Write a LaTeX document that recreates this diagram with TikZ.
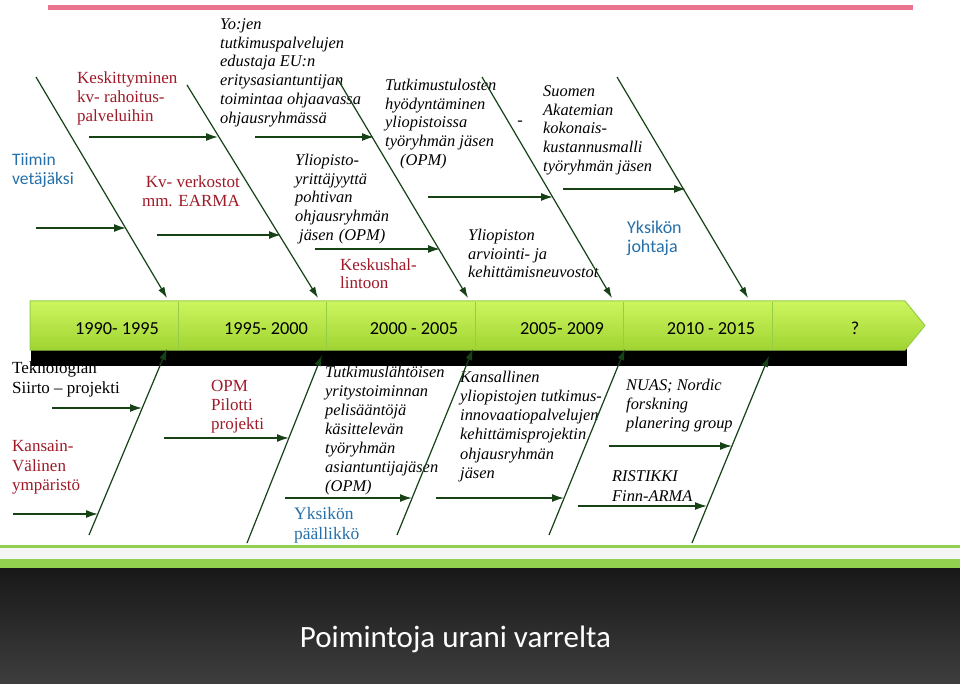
\documentclass[tikz,border=0pt]{standalone}
\usepackage{fontspec}
\setmainfont{Liberation Serif}
\newfontfamily\carl{Carlito}
\usetikzlibrary{arrows.meta}
\definecolor{dgreen}{RGB}{22,66,22}
\definecolor{dred}{RGB}{158,26,40}
\definecolor{tblue}{RGB}{37,112,170}
\definecolor{pinkline}{RGB}{234,115,142}
\definecolor{bartop}{RGB}{205,245,95}
\definecolor{barbot}{RGB}{160,212,50}
\definecolor{barline}{RGB}{150,205,70}
\definecolor{lgreen}{RGB}{146,208,80}
\newcommand\myfl{\rule{0pt}{0.8em}}
\begin{document}
\begin{tikzpicture}[x=1pt,y=-1pt,
  it/.style={anchor=north west,inner sep=0pt,align=left,font=\fontsize{16.4}{18.8}\selectfont\itshape},
  rd/.style={anchor=north west,inner sep=0pt,align=left,text=dred,font=\fontsize{17}{19.2}\selectfont},
  bk/.style={anchor=north west,inner sep=0pt,align=left,font=\fontsize{17}{20}\selectfont},
  bl/.style={anchor=north west,inner sep=0pt,align=left,text=tblue,font=\fontsize{17.5}{20}\selectfont},
  bls/.style={anchor=north west,inner sep=0pt,align=left,text=tblue,font=\carl\fontsize{17.5}{19}\selectfont},
  yr/.style={anchor=base,inner sep=0pt,font=\carl\fontsize{18.3}{20}\selectfont},
  bone/.style={draw=dgreen,line width=1.2pt,-{Latex[length=11pt,width=7pt]}},
  twig/.style={draw=dgreen,line width=1.6pt,-{Latex[length=12pt,width=8pt]}}]
\useasboundingbox (0,0) rectangle (960,684);
\fill[white] (0,0) rectangle (960,684);
% top pink rule
\fill[pinkline] (48,5) rectangle (913,10);

% ---------- upper texts ----------
\node[it] (yojen) at (220,15.9) {\myfl Yo:jen\\tutkimuspalvelujen\\edustaja EU:n\\eritysasiantuntijan\\toimintaa ohjaavassa\\ohjausryhmässä};
\node[rd] (keskit) at (77,69.4) {\myfl Keskittyminen\\kv- rahoitus-\\palveluihin};
\node[bls] (tiimin) at (12,151) {\myfl Tiimin\\vetäjäksi};
\node[rd,anchor=north east,align=right] (kvverk) at (240,173.4) {\myfl Kv- verkostot\\mm. EARMA};
\node[it] (ylyrit) at (295,152) {\myfl Yliopisto-\\yrittäjyyttä\\pohtivan\\ohjausryhmän\\\hspace*{4pt}jäsen\hspace{5pt}(OPM)};
\node[rd,font=\fontsize{17}{18.5}\selectfont] (keskus) at (340,256.4) {\myfl Keskushal-\\lintoon};
\node[it] (tutktul) at (385,76.9) {\myfl Tutkimustulosten\\hyödyntäminen\\yliopistoissa\\työryhmän jäsen\\\hspace*{15pt}(OPM)};
\node[it,anchor=center] (dash) at (520,123) {-};
\node[it] (suomen) at (543,83) {\myfl Suomen\\Akatemian\\kokonais-\\kustannusmalli\\työryhmän jäsen};
\node[it] (ylarv) at (468,227) {\myfl Yliopiston\\arviointi- ja\\kehittämisneuvostot};
\node[bls,font=\carl\fontsize{18}{19}\selectfont] (yjoht) at (627,218.6) {\myfl Yksikön\\johtaja};

% ---------- upper bones ----------
\coordinate (A1) at (36,77);  \coordinate (A2) at (167,298);
\coordinate (B1) at (187,85); \coordinate (B2) at (318,298);
\coordinate (C1) at (337,78); \coordinate (C2) at (468,298);
\coordinate (D1) at (482,77); \coordinate (D2) at (612,298);
\coordinate (E1) at (617,77); \coordinate (E2) at (748,298);
\foreach \p in {A,B,C,D,E} \draw[bone] (\p1) -- (\p2);

\coordinate (ha1) at (36,228);  \coordinate (ha2) at (126,228);
\coordinate (hb1) at (89,137);  \coordinate (hb2) at (218,137);
\coordinate (hb3) at (157,235); \coordinate (hb4) at (281,235);
\coordinate (hc1) at (255,137); \coordinate (hc2) at (374,137);
\coordinate (hc3) at (315,249); \coordinate (hc4) at (440,249);
\coordinate (hd1) at (428,197); \coordinate (hd2) at (553,197);
\coordinate (he1) at (563,189); \coordinate (he2) at (686,189);
\draw[twig] (ha1) -- (ha2);
\draw[twig] (hb1) -- (hb2);
\draw[twig] (hb3) -- (hb4);
\draw[twig] (hc1) -- (hc2);
\draw[twig] (hc3) -- (hc4);
\draw[twig] (hd1) -- (hd2);
\draw[twig] (he1) -- (he2);

% ---------- lower texts ----------
\node[bk] (tekno) at (12,359.4) {\myfl Teknologian\\Siirto -- projekti};
\node[rd,font=\fontsize{17}{19.8}\selectfont] (kansain) at (12,437.4) {\myfl Kansain-\\Välinen\\ympäristö};
\node[rd,font=\fontsize{17}{19.3}\selectfont] (opm) at (211,377.4) {\myfl OPM\\Pilotti\\projekti};
\node[it,font=\fontsize{16.4}{19}\selectfont\itshape] (tutkl) at (325,364) {\myfl Tutkimuslähtöisen\\yritystoiminnan\\pelisääntöjä\\käsittelevän\\työryhmän\\asiantuntijajäsen\\(OPM)};
\node[bl] (ypaal) at (294,505.4) {\myfl Yksikön\\päällikkö};
\node[it,font=\fontsize{16.4}{19.2}\selectfont\itshape] (kansal) at (460,369) {\myfl Kansallinen\\yliopistojen tutkimus-\\innovaatiopalvelujen\\kehittämisprojektin\\ohjausryhmän\\jäsen};
\node[it,font=\fontsize{16.4}{19}\selectfont\itshape] (nuas) at (626,377) {\myfl NUAS; Nordic\\forskning\\planering group};
\node[it,font=\fontsize{16.4}{20}\selectfont\itshape] (ristikki) at (612,468) {\myfl RISTIKKI\\Finn-ARMA};

% ---------- timeline bar ----------
\fill[black] (31,340) rectangle (907,366);
\shade[top color=bartop,bottom color=barbot,draw=barline,line width=1pt]
  (30,301) -- (905,301) -- (925,325.5) -- (905,350) -- (30,350) -- cycle;
\foreach \x in {178,326,475,623,772} \draw[barline,line width=1pt] (\x,302) -- (\x,349.5);
\node[yr] (y1) at (117,334) {1990- 1995};
\node[yr] (y2) at (266,334) {1995- 2000};
\node[yr] (y3) at (414,334) {2000 - 2005};
\node[yr] (y4) at (562,334) {2005- 2009};
\node[yr] (y5) at (711,334) {2010 - 2015};
\node[yr] (y6) at (855,334) {?};

% ---------- lower bones ----------
\coordinate (L1a) at (89,535);  \coordinate (L1b) at (167,349);
\coordinate (L2a) at (247,543); \coordinate (L2b) at (322,355);
\coordinate (L3a) at (397,535); \coordinate (L3b) at (473,349);
\coordinate (L4a) at (549,535); \coordinate (L4b) at (625,349);
\coordinate (L5a) at (692,543); \coordinate (L5b) at (769,356);
\foreach \n in {1,2,3,4,5} \draw[bone] (L\n a) -- (L\n b);

\coordinate (k1a) at (52,408);  \coordinate (k1b) at (142,408);
\coordinate (k2a) at (13,514);  \coordinate (k2b) at (98,514);
\coordinate (k3a) at (164,438); \coordinate (k3b) at (289,438);
\coordinate (k4a) at (285,498); \coordinate (k4b) at (412,498);
\coordinate (k5a) at (436,498); \coordinate (k5b) at (564,498);
\coordinate (k6a) at (609,446); \coordinate (k6b) at (732,446);
\coordinate (k7a) at (578,506); \coordinate (k7b) at (707,506);
\foreach \n in {1,...,7} \draw[twig] (k\n a) -- (k\n b);

% ---------- bottom band ----------
\fill[lgreen] (0,545) rectangle (960,547.5);
\fill[black!4] (0,547.5) rectangle (960,559);
\fill[lgreen] (0,559) rectangle (960,568);
\shade[top color={rgb,255:red,24;green,24;blue,24},bottom color={rgb,255:red,62;green,62;blue,62}] (0,568) rectangle (960,684);
\node[anchor=base,inner sep=0pt,text=white,font=\carl\fontsize{31}{34}\selectfont] (title) at (455.5,647) {Poimintoja urani varrelta};
\end{tikzpicture}
\end{document}
